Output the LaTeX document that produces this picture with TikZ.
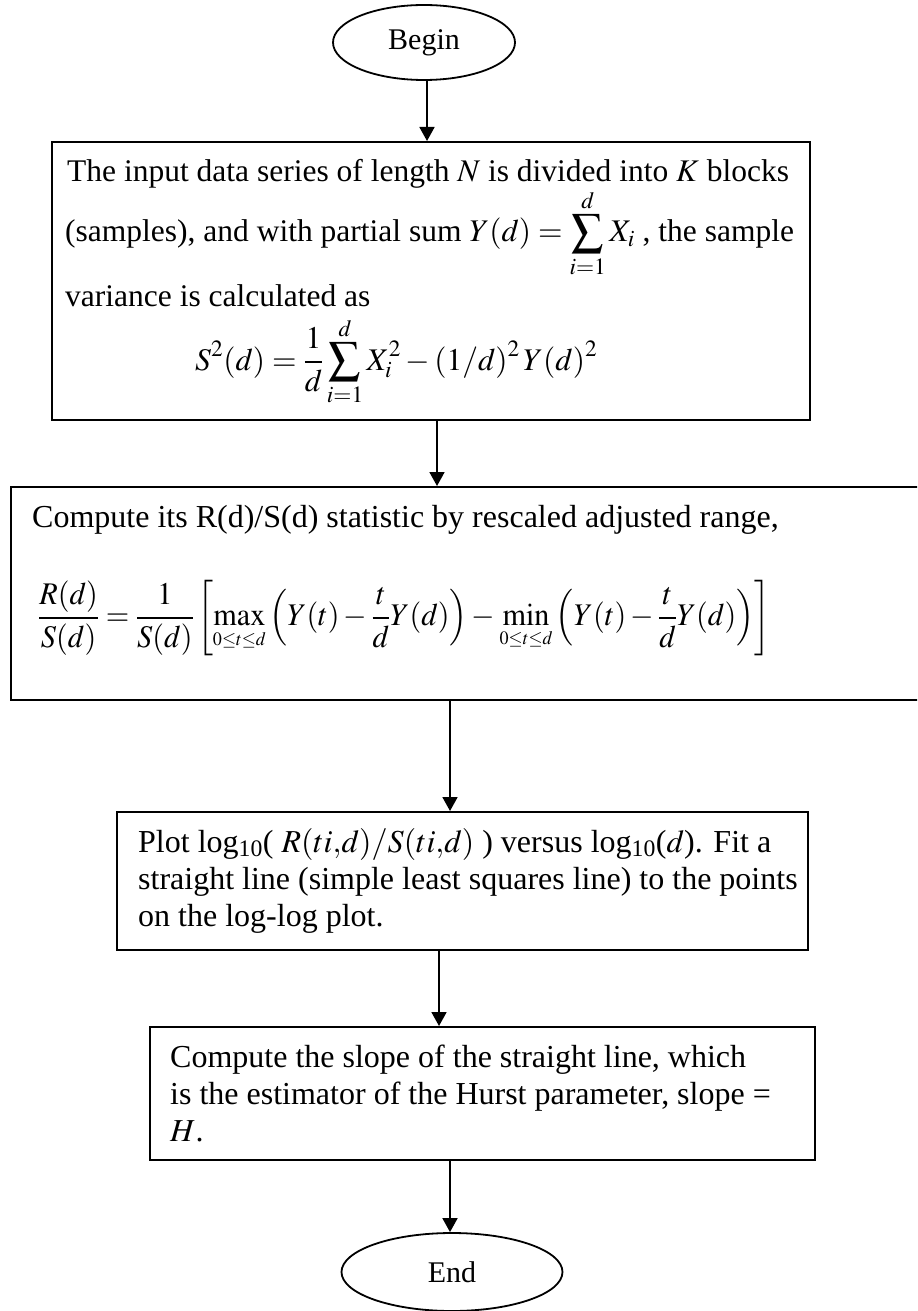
\documentclass[tikz,border=0pt]{standalone}
\usepackage{amsmath}
\usepackage{graphicx}
\usepackage{mathptmx}
\usepackage{fontspec}
\setmainfont{Liberation Serif}
\usetikzlibrary{arrows.meta,shapes.geometric}
\begin{document}
\begin{tikzpicture}[x=1bp,y=-1bp,
  box/.style={draw, line width=2bp, inner sep=0pt},
  oval/.style={draw, ellipse, line width=1.8bp, inner sep=0pt, font=\fontsize{30bp}{36bp}\selectfont},
  arr/.style={line width=1.8bp, -{Triangle[length=14bp,width=15bp]}},
  txt/.style={anchor=base west, inner sep=0pt, font=\fontsize{32bp}{36bp}\selectfont},
  txta/.style={anchor=base west, inner sep=0pt, font=\fontsize{31.5bp}{36bp}\selectfont},
  frm/.style={anchor=west, inner sep=0pt, font=\fontsize{31.5bp}{36bp}\selectfont},
]
\useasboundingbox (0,0) rectangle (917,1311);
\clip (0,0) rectangle (917,1311);

% ovals
\node[oval, minimum width=182bp, minimum height=75bp] (begin) at (424,42.5) {Begin};
\node[oval, minimum width=221bp, minimum height=78bp] (end) at (452,1272) {End};

% boxes
\node[box, minimum width=758bp, minimum height=278bp] (b1) at (431,281) {};
\node[box, minimum width=919bp, minimum height=213bp] (b2) at (470.5,593.5) {};
\node[box, minimum width=691bp, minimum height=138bp] (b3) at (462.5,881) {};
\node[box, minimum width=665bp, minimum height=133bp] (b4) at (482.5,1093.5) {};

% box 1 text
\node[txta] (b1a) at (67,182) {The input data series of length $N$ is divided into $K$ blocks};
\node[txta] (b1b) at (65,242) {(samples), and with partial sum $Y(d)=\displaystyle\sum_{i=1}^{d}X_i$ , the sample};
\node[txta] (b1c) at (65,307) {variance is calculated as};
\node[txta] (b1d) at (195,370) {$\displaystyle S^2(d)=\frac{1}{d}\sum_{i=1}^{d}X_i^2-(1/d)^2\,Y(d)^2$};

% box 2 text
\node[txt] (b2a) at (32,527) {Compute its R(d)/S(d) statistic by rescaled adjusted range,};
\node[frm] (b2b) at (38,618) {\resizebox{732bp}{\height}{$\displaystyle \frac{R(d)}{S(d)}=\frac{1}{S(d)}\left[\max_{\scriptscriptstyle 0\le t\le d}\left(Y(t)-\frac{t}{d}Y(d)\right)-\min_{\scriptscriptstyle 0\le t\le d}\left(Y(t)-\frac{t}{d}Y(d)\right)\right]$}};

% box 3 text
\node[txt] (b3a) at (138,852) {Plot log\textsubscript{10}( $R(ti{,}d)/S(ti{,}d)$ ) versus log\textsubscript{10}($d$). Fit a};
\node[txt] (b3b) at (138,889) {straight line (simple least squares line) to the points};
\node[txt] (b3c) at (138,926) {on the log-log plot.};

% box 4 text
\node[txt] (b4a) at (170,1067) {Compute the slope of the straight line, which};
\node[txt] (b4b) at (170,1104) {is the estimator of the Hurst parameter, slope =};
\node[txt] (b4c) at (170,1141) {$H$.};

% connectors
\coordinate (x1) at (427,0);
\coordinate (x2) at (437,0);
\coordinate (x3) at (450,0);
\coordinate (x4) at (439,0);
\coordinate (x5) at (450,0);
\draw[arr] (x1 |- begin.south) -- (x1 |- b1.north);
\draw[arr] (x2 |- b1.south) -- (x2 |- b2.north);
\draw[arr] (x3 |- b2.south) -- (x3 |- b3.north);
\draw[arr] (x4 |- b3.south) -- (x4 |- b4.north);
\draw[arr] (x5 |- b4.south) -- (x5 |- end.north);
\end{tikzpicture}
\end{document}
